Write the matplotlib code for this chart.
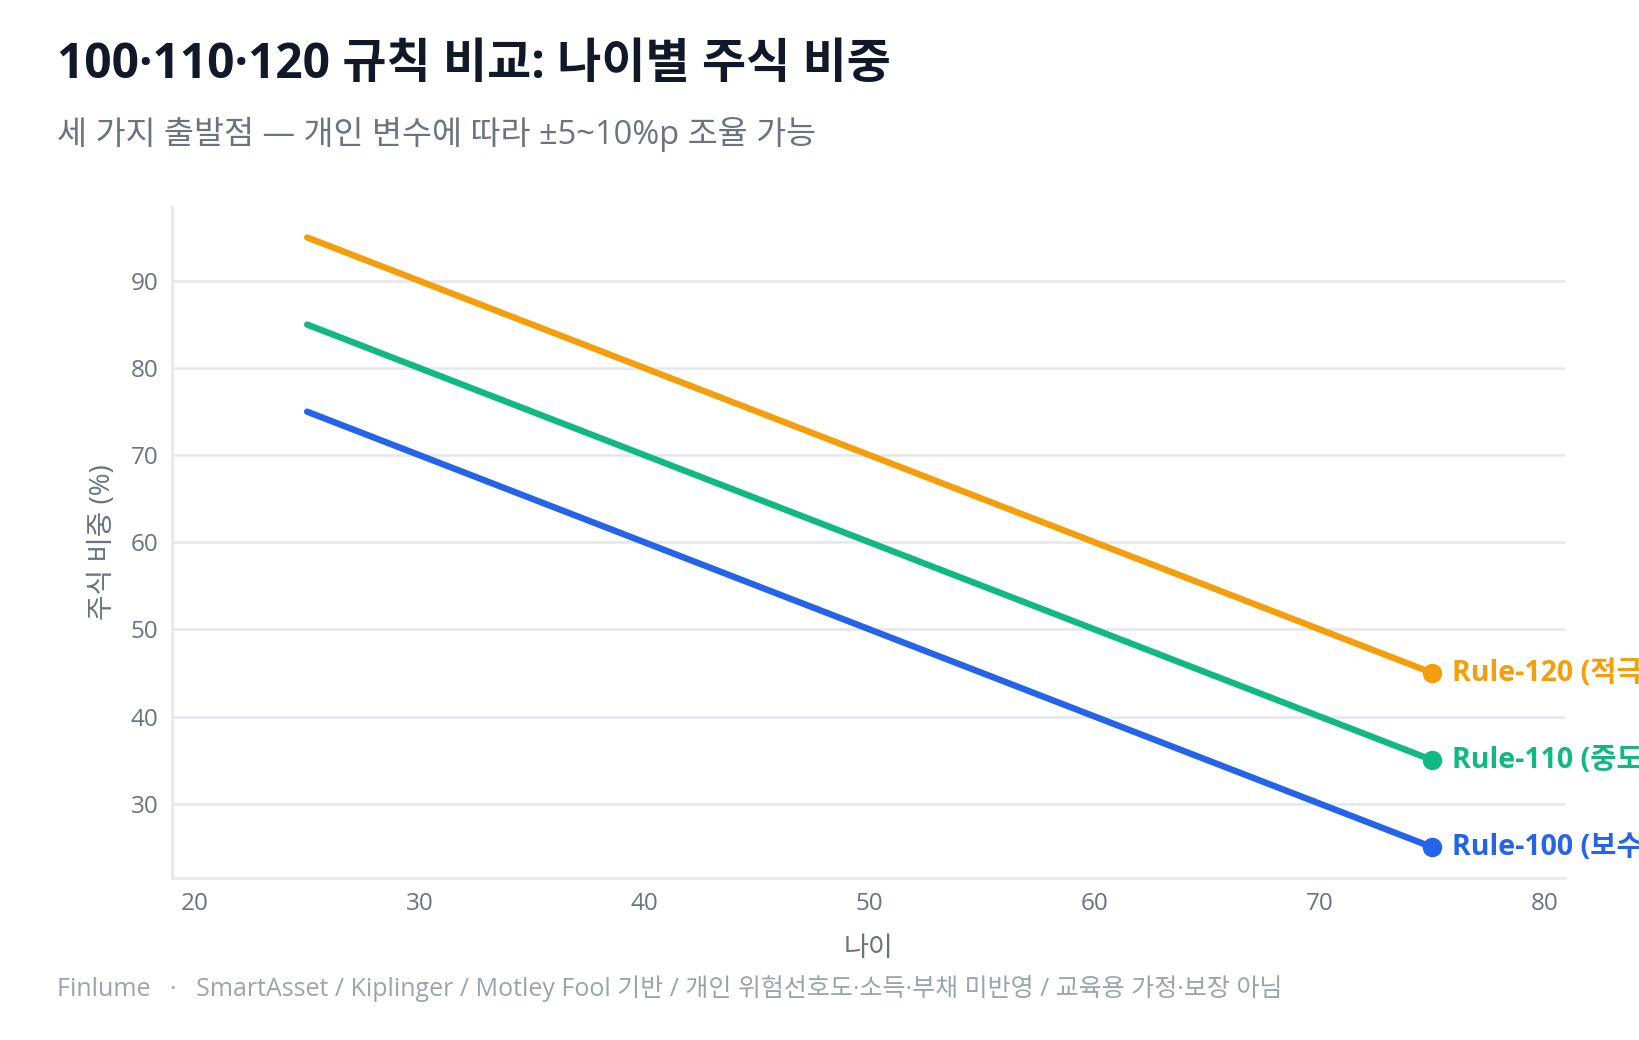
import matplotlib
matplotlib.use("Agg")
import matplotlib.pyplot as plt

plt.rcParams['font.family'] = ['Open Sans', 'Noto Sans CJK KR', 'DejaVu Sans']

# data
ages = [25, 35, 45, 55, 65, 75]
rule_120 = [95, 85, 75, 65, 55, 45]
rule_110 = [85, 75, 65, 55, 45, 35]
rule_100 = [75, 65, 55, 45, 35, 25]
series_names = ['Rule-120 (적극형)', 'Rule-110 (중도형)', 'Rule-100 (보수형)']
series_colors = ['#f59e0b', '#10b981', '#2563eb']
x_ticks = [20, 30, 40, 50, 60, 70, 80]
y_ticks = [30, 40, 50, 60, 70, 80, 90]

fig = plt.figure(figsize=(16.39, 10.40), dpi=100)
ax = fig.add_axes([0.105, 0.156, 0.850, 0.645])

for vals, name, col in zip([rule_120, rule_110, rule_100], series_names, series_colors):
    ax.plot(ages, vals, color=col, lw=4.6, solid_capstyle='round', zorder=3)
    ax.plot(ages[-1], vals[-1], 'o', color=col, ms=13, zorder=4, clip_on=False)
    ax.annotate(name, (ages[-1], vals[-1]), xytext=(14, 0), textcoords='offset points',
                color=col, fontsize=20.5, fontweight='bold', va='center', ha='left',
                annotation_clip=False)

ax.set_xlim(19.0, 80.9)
ax.set_ylim(21.5, 98.5)
ax.set_xticks(x_ticks)
ax.set_yticks(y_ticks)
ax.grid(axis='y', color='#e5e7eb', lw=1.8)
ax.set_axisbelow(True)
for s in ['top', 'right']:
    ax.spines[s].set_visible(False)
for s in ['left', 'bottom']:
    ax.spines[s].set_color('#e5e7eb')
    ax.spines[s].set_linewidth(1.8)
ax.tick_params(length=0, labelsize=17.5, labelcolor='#6b7280', pad=10)
ax.set_xlabel('나이', fontsize=19.5, color='#6b7280', labelpad=14)
ax.set_ylabel('주식 비중 (%)', fontsize=20, color='#6b7280', labelpad=10)

fig.text(0.035, 0.9375, '100·110·120 규칙 비교: 나이별 주식 비중', fontsize=34.5,
         fontweight='bold', color='#111827', va='center')
fig.text(0.035, 0.871, '세 가지 출발점 — 개인 변수에 따라 ±5~10%p 조율 가능', fontsize=23.5,
         color='#6b7280', va='center')
fig.text(0.035, 0.050, 'Finlume   ·   SmartAsset / Kiplinger / Motley Fool 기반 / 개인 위험선호도·소득·부채 미반영 / 교육용 가정·보장 아님',
         fontsize=18, color='#9ca3af', va='center')

fig.savefig('out.png', dpi=100)
